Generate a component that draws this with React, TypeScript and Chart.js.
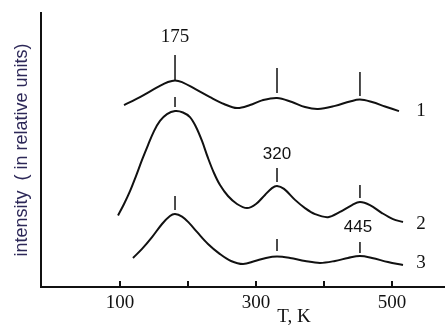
import { useEffect, useRef } from 'react';
import { Chart, registerables } from 'chart.js';

Chart.register(...registerables);

// x: temperature T (K); y: intensity in relative units (0..100)
const xTicks = [100, 200, 300, 400, 500];
const xTickLabels = ['100', '', '300', '', '500'];

const curve1T = [105.9, 129.4, 155.9, 170.6, 180.9, 191.2, 210.3, 232.4, 252.9, 272.1, 291.2, 308.8, 330.9, 352.9, 372.1, 391.2, 416.2, 438.2, 452.9, 470.6, 489.7, 510.3];
const curve1I = [66.4, 69.3, 73.0, 74.8, 75.4, 74.8, 72.3, 69.3, 66.8, 65.3, 66.4, 68.1, 69.0, 67.5, 65.7, 65.0, 66.1, 67.7, 68.4, 67.5, 65.9, 64.2];

const curve2T = [97.1, 105.9, 114.7, 123.5, 132.4, 141.2, 150.0, 158.8, 169.1, 180.9, 192.6, 202.9, 211.8, 220.6, 229.4, 238.2, 247.1, 258.8, 272.1, 286.8, 300.0, 313.2, 323.5, 330.9, 341.2, 357.4, 372.1, 386.8, 405.9, 423.5, 441.2, 452.9, 467.6, 485.3, 501.5, 516.2];
const curve2I = [26.1, 30.3, 35.0, 40.5, 46.4, 51.8, 56.9, 60.6, 63.1, 64.2, 63.7, 62.0, 58.4, 53.3, 47.1, 41.6, 37.2, 33.2, 30.3, 28.8, 30.3, 33.6, 36.1, 36.9, 35.8, 31.8, 28.8, 26.6, 25.5, 27.4, 29.9, 31.0, 29.9, 27.0, 24.8, 23.7];

const curve3T = [119.1, 132.4, 147.1, 161.8, 173.5, 180.9, 191.2, 201.5, 213.2, 229.4, 247.1, 263.2, 280.9, 298.5, 314.7, 330.9, 350.0, 372.1, 394.1, 416.2, 435.3, 452.9, 470.6, 494.1, 516.2];
const curve3I = [10.6, 13.9, 18.2, 23.0, 25.9, 26.6, 25.7, 23.4, 20.1, 15.7, 12.0, 9.5, 8.4, 9.5, 10.6, 11.1, 10.6, 9.5, 8.8, 9.5, 10.6, 11.3, 10.6, 9.1, 8.0];

// peak marker positions (T) and their [top, bottom] intensities per curve
const peakT = [180.9, 330.9, 452.9];
const marks1 = [[84.7, 75.5], [79.9, 70.8], [78.5, 69.7]];
const marks2 = [[69.3, 65.7], [43.4, 38.3], [37.2, 32.5]];
const marks3 = [[33.2, 28.1], [17.5, 13.1], [16.4, 12.4]];

const peakLabelText = ['175', '320', '445'];
const peakLabelT = [180.9, 330.9, 450.0];
const peakLabelI = [91.2, 48.5, 21.9];
const peakLabelSans = [false, true, true];

const curveNames = ['1', '2', '3'];
const curveNameT = 542.6;
const curveNameI = [64.2, 23.0, 8.8];

const xTitle = 'T, K';
const xTitleT = 356;
const yTitle = 'intensity  ( in relative units)';

const toPts = (t: number[], v: number[]) => t.map((x, i) => ({ x, y: v[i] }));

export default function App() {
  const ref = useRef<HTMLCanvasElement | null>(null);

  useEffect(() => {
    if (!ref.current) return;

    const curveDs = [
      [curve1T, curve1I],
      [curve2T, curve2I],
      [curve3T, curve3I],
    ].map(([t, v]) => ({
      data: toPts(t, v),
      borderColor: '#111',
      borderWidth: 2,
      pointRadius: 0,
      tension: 0.35,
      fill: false,
    }));

    const markDs: any[] = [];
    [marks1, marks2, marks3].forEach((marks) => {
      marks.forEach((m, i) => {
        markDs.push({
          data: [
            { x: peakT[i], y: m[0] },
            { x: peakT[i], y: m[1] },
          ],
          borderColor: '#111',
          borderWidth: 1.5,
          pointRadius: 0,
          tension: 0,
          fill: false,
        });
      });
    });

    const textPlugin = {
      id: 'texts',
      afterDatasetsDraw(chart: any) {
        const { ctx, scales } = chart;
        const xs = scales.x;
        const ys = scales.y;
        ctx.save();
        ctx.fillStyle = '#111';
        ctx.textAlign = 'center';
        ctx.textBaseline = 'middle';
        peakLabelText.forEach((txt, i) => {
          ctx.font = peakLabelSans[i] ? '17px "Liberation Sans"' : '19px "Liberation Serif"';
          ctx.fillText(txt, xs.getPixelForValue(peakLabelT[i]), ys.getPixelForValue(peakLabelI[i]));
        });
        ctx.font = '19px "Liberation Serif"';
        curveNames.forEach((txt, i) => {
          ctx.fillText(txt, xs.getPixelForValue(curveNameT), ys.getPixelForValue(curveNameI[i]));
        });
        ctx.font = '19px "Liberation Serif"';
        ctx.fillText(xTitle, xs.getPixelForValue(xTitleT), xs.bottom - 17);
        ctx.restore();
      },
    };

    const chart = new Chart(ref.current, {
      type: 'line',
      data: { datasets: [...curveDs, ...markDs] },
      options: {
        animation: false,
        responsive: false,
        events: [],
        layout: { padding: { top: 13, right: 4, left: 0, bottom: 0 } },
        plugins: { legend: { display: false }, tooltip: { enabled: false } },
        scales: {
          x: {
            type: 'linear',
            min: -16.2,
            max: 576.5,
            afterFit: (s: any) => {
              s.height = 47;
            },
            afterBuildTicks: (s: any) => {
              s.ticks = xTicks.map((v) => ({ value: v }));
            },
            grid: {
              drawOnChartArea: false,
              drawTicks: true,
              tickLength: -6,
              color: '#111',
              lineWidth: 2,
            },
            border: { display: true, color: '#111', width: 2 },
            ticks: {
              padding: 11,
              color: '#111',
              maxRotation: 0,
              autoSkip: false,
              font: { family: 'Liberation Serif', size: 19 },
              callback: (v: any) => {
                const i = xTicks.indexOf(Number(v));
                return i >= 0 ? xTickLabels[i] : '';
              },
            },
          },
          y: {
            type: 'linear',
            min: 0,
            max: 100,
            afterFit: (s: any) => {
              s.width = 41;
            },
            grid: { drawOnChartArea: false, drawTicks: false },
            border: { display: true, color: '#111', width: 2 },
            ticks: { display: false },
            title: {
              display: true,
              text: yTitle,
              color: '#2d2858',
              font: { family: 'Liberation Sans', size: 18 },
              padding: { top: 11, bottom: 0 },
            },
          },
        },
      },
      plugins: [textPlugin],
    });

    return () => chart.destroy();
  }, []);

  return (
    <div style={{ position: 'fixed', left: 0, top: 0, width: 448, height: 334, background: '#fff' }}>
      <canvas ref={ref} width={448} height={334} style={{ display: 'block' }} />
    </div>
  );
}
